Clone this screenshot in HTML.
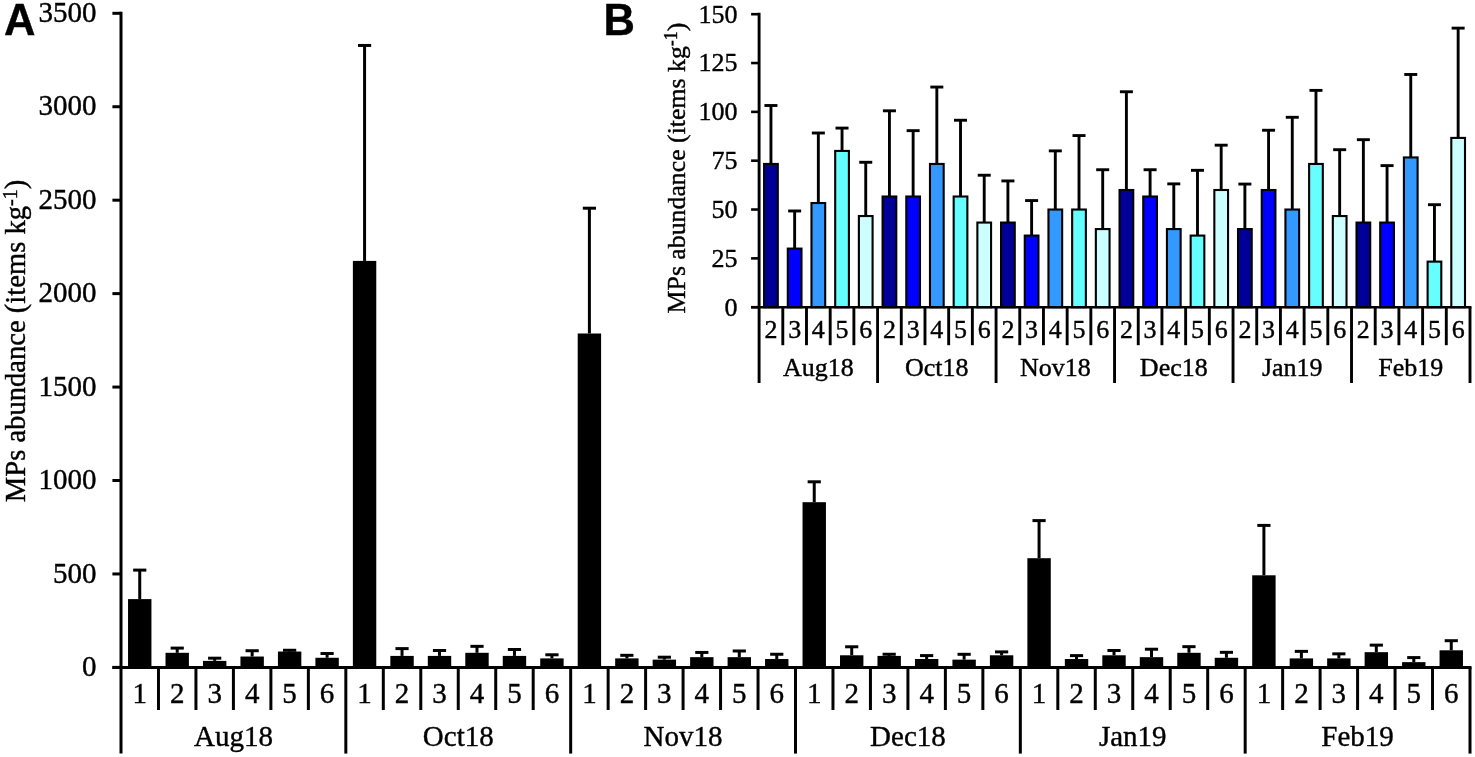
<!DOCTYPE html>
<html><head><meta charset="utf-8"><title>MPs abundance</title>
<style>html,body{margin:0;padding:0;background:#fff;width:1475px;height:757px;overflow:hidden}
svg text{font-family:"Liberation Serif",serif;fill:#000;stroke:#000;stroke-width:0.4px}
svg{will-change:transform}</style></head>
<body>
<svg width="1475" height="757" viewBox="0 0 1475 757" style="position:absolute;left:0;top:0">
<rect width="1475" height="757" fill="#fff"/>
<rect x="128.04" y="599.10" width="23.4" height="68.30" fill="#000"/>
<line x1="139.74" y1="599.10" x2="139.74" y2="570.10" stroke="#000" stroke-width="3.0"/>
<line x1="133.14" y1="570.10" x2="146.34" y2="570.10" stroke="#000" stroke-width="3.0"/>
<rect x="165.51" y="652.80" width="23.4" height="14.60" fill="#000"/>
<line x1="177.21" y1="652.80" x2="177.21" y2="648.10" stroke="#000" stroke-width="3.0"/>
<line x1="170.61" y1="648.10" x2="183.81" y2="648.10" stroke="#000" stroke-width="3.0"/>
<rect x="202.98" y="660.89" width="23.4" height="6.51" fill="#000"/>
<line x1="214.68" y1="660.89" x2="214.68" y2="658.19" stroke="#000" stroke-width="3.0"/>
<line x1="208.08" y1="658.19" x2="221.28" y2="658.19" stroke="#000" stroke-width="3.0"/>
<rect x="240.45" y="656.53" width="23.4" height="10.87" fill="#000"/>
<line x1="252.15" y1="656.53" x2="252.15" y2="650.73" stroke="#000" stroke-width="3.0"/>
<line x1="245.55" y1="650.73" x2="258.75" y2="650.73" stroke="#000" stroke-width="3.0"/>
<rect x="277.93" y="651.55" width="23.4" height="15.85" fill="#000"/>
<line x1="289.62" y1="651.55" x2="289.62" y2="650.26" stroke="#000" stroke-width="3.0"/>
<line x1="283.02" y1="650.26" x2="296.23" y2="650.26" stroke="#000" stroke-width="3.0"/>
<rect x="315.40" y="657.78" width="23.4" height="9.62" fill="#000"/>
<line x1="327.10" y1="657.78" x2="327.10" y2="653.53" stroke="#000" stroke-width="3.0"/>
<line x1="320.50" y1="653.53" x2="333.70" y2="653.53" stroke="#000" stroke-width="3.0"/>
<rect x="352.87" y="260.90" width="23.4" height="406.50" fill="#000"/>
<line x1="364.57" y1="260.90" x2="364.57" y2="45.45" stroke="#000" stroke-width="3.0"/>
<line x1="357.97" y1="45.45" x2="371.17" y2="45.45" stroke="#000" stroke-width="3.0"/>
<rect x="390.34" y="655.91" width="23.4" height="11.49" fill="#000"/>
<line x1="402.04" y1="655.91" x2="402.04" y2="648.61" stroke="#000" stroke-width="3.0"/>
<line x1="395.44" y1="648.61" x2="408.64" y2="648.61" stroke="#000" stroke-width="3.0"/>
<rect x="427.81" y="655.91" width="23.4" height="11.49" fill="#000"/>
<line x1="439.51" y1="655.91" x2="439.51" y2="650.51" stroke="#000" stroke-width="3.0"/>
<line x1="432.91" y1="650.51" x2="446.11" y2="650.51" stroke="#000" stroke-width="3.0"/>
<rect x="465.29" y="652.80" width="23.4" height="14.60" fill="#000"/>
<line x1="476.99" y1="652.80" x2="476.99" y2="646.34" stroke="#000" stroke-width="3.0"/>
<line x1="470.39" y1="646.34" x2="483.59" y2="646.34" stroke="#000" stroke-width="3.0"/>
<rect x="502.76" y="655.91" width="23.4" height="11.49" fill="#000"/>
<line x1="514.46" y1="655.91" x2="514.46" y2="649.51" stroke="#000" stroke-width="3.0"/>
<line x1="507.86" y1="649.51" x2="521.06" y2="649.51" stroke="#000" stroke-width="3.0"/>
<rect x="540.23" y="658.40" width="23.4" height="9.00" fill="#000"/>
<line x1="551.93" y1="658.40" x2="551.93" y2="654.77" stroke="#000" stroke-width="3.0"/>
<line x1="545.33" y1="654.77" x2="558.53" y2="654.77" stroke="#000" stroke-width="3.0"/>
<rect x="577.70" y="333.50" width="23.4" height="333.90" fill="#000"/>
<line x1="589.40" y1="333.50" x2="589.40" y2="208.20" stroke="#000" stroke-width="3.0"/>
<line x1="582.80" y1="208.20" x2="596.00" y2="208.20" stroke="#000" stroke-width="3.0"/>
<rect x="615.17" y="658.40" width="23.4" height="9.00" fill="#000"/>
<line x1="626.88" y1="658.40" x2="626.88" y2="655.32" stroke="#000" stroke-width="3.0"/>
<line x1="620.27" y1="655.32" x2="633.48" y2="655.32" stroke="#000" stroke-width="3.0"/>
<rect x="652.65" y="659.65" width="23.4" height="7.75" fill="#000"/>
<line x1="664.35" y1="659.65" x2="664.35" y2="657.20" stroke="#000" stroke-width="3.0"/>
<line x1="657.75" y1="657.20" x2="670.95" y2="657.20" stroke="#000" stroke-width="3.0"/>
<rect x="690.12" y="657.16" width="23.4" height="10.24" fill="#000"/>
<line x1="701.82" y1="657.16" x2="701.82" y2="652.44" stroke="#000" stroke-width="3.0"/>
<line x1="695.22" y1="652.44" x2="708.42" y2="652.44" stroke="#000" stroke-width="3.0"/>
<rect x="727.59" y="657.16" width="23.4" height="10.24" fill="#000"/>
<line x1="739.29" y1="657.16" x2="739.29" y2="650.98" stroke="#000" stroke-width="3.0"/>
<line x1="732.69" y1="650.98" x2="745.89" y2="650.98" stroke="#000" stroke-width="3.0"/>
<rect x="765.06" y="659.02" width="23.4" height="8.38" fill="#000"/>
<line x1="776.76" y1="659.02" x2="776.76" y2="654.25" stroke="#000" stroke-width="3.0"/>
<line x1="770.16" y1="654.25" x2="783.36" y2="654.25" stroke="#000" stroke-width="3.0"/>
<rect x="802.54" y="502.20" width="23.4" height="165.20" fill="#000"/>
<line x1="814.24" y1="502.20" x2="814.24" y2="481.80" stroke="#000" stroke-width="3.0"/>
<line x1="807.64" y1="481.80" x2="820.84" y2="481.80" stroke="#000" stroke-width="3.0"/>
<rect x="840.01" y="655.29" width="23.4" height="12.11" fill="#000"/>
<line x1="851.71" y1="655.29" x2="851.71" y2="646.79" stroke="#000" stroke-width="3.0"/>
<line x1="845.11" y1="646.79" x2="858.31" y2="646.79" stroke="#000" stroke-width="3.0"/>
<rect x="877.48" y="655.91" width="23.4" height="11.49" fill="#000"/>
<line x1="889.18" y1="655.91" x2="889.18" y2="654.25" stroke="#000" stroke-width="3.0"/>
<line x1="882.58" y1="654.25" x2="895.78" y2="654.25" stroke="#000" stroke-width="3.0"/>
<rect x="914.95" y="659.02" width="23.4" height="8.38" fill="#000"/>
<line x1="926.65" y1="659.02" x2="926.65" y2="655.60" stroke="#000" stroke-width="3.0"/>
<line x1="920.05" y1="655.60" x2="933.25" y2="655.60" stroke="#000" stroke-width="3.0"/>
<rect x="952.42" y="659.65" width="23.4" height="7.75" fill="#000"/>
<line x1="964.12" y1="659.65" x2="964.12" y2="654.30" stroke="#000" stroke-width="3.0"/>
<line x1="957.52" y1="654.30" x2="970.73" y2="654.30" stroke="#000" stroke-width="3.0"/>
<rect x="989.90" y="655.29" width="23.4" height="12.11" fill="#000"/>
<line x1="1001.60" y1="655.29" x2="1001.60" y2="651.90" stroke="#000" stroke-width="3.0"/>
<line x1="995.00" y1="651.90" x2="1008.20" y2="651.90" stroke="#000" stroke-width="3.0"/>
<rect x="1027.37" y="558.20" width="23.4" height="109.20" fill="#000"/>
<line x1="1039.07" y1="558.20" x2="1039.07" y2="520.60" stroke="#000" stroke-width="3.0"/>
<line x1="1032.47" y1="520.60" x2="1045.67" y2="520.60" stroke="#000" stroke-width="3.0"/>
<rect x="1064.84" y="659.02" width="23.4" height="8.38" fill="#000"/>
<line x1="1076.54" y1="659.02" x2="1076.54" y2="655.62" stroke="#000" stroke-width="3.0"/>
<line x1="1069.94" y1="655.62" x2="1083.14" y2="655.62" stroke="#000" stroke-width="3.0"/>
<rect x="1102.31" y="655.29" width="23.4" height="12.11" fill="#000"/>
<line x1="1114.01" y1="655.29" x2="1114.01" y2="650.47" stroke="#000" stroke-width="3.0"/>
<line x1="1107.41" y1="650.47" x2="1120.61" y2="650.47" stroke="#000" stroke-width="3.0"/>
<rect x="1139.79" y="657.16" width="23.4" height="10.24" fill="#000"/>
<line x1="1151.49" y1="657.16" x2="1151.49" y2="649.23" stroke="#000" stroke-width="3.0"/>
<line x1="1144.89" y1="649.23" x2="1158.09" y2="649.23" stroke="#000" stroke-width="3.0"/>
<rect x="1177.26" y="652.80" width="23.4" height="14.60" fill="#000"/>
<line x1="1188.96" y1="652.80" x2="1188.96" y2="646.66" stroke="#000" stroke-width="3.0"/>
<line x1="1182.36" y1="646.66" x2="1195.56" y2="646.66" stroke="#000" stroke-width="3.0"/>
<rect x="1214.73" y="657.78" width="23.4" height="9.62" fill="#000"/>
<line x1="1226.43" y1="657.78" x2="1226.43" y2="652.33" stroke="#000" stroke-width="3.0"/>
<line x1="1219.83" y1="652.33" x2="1233.03" y2="652.33" stroke="#000" stroke-width="3.0"/>
<rect x="1252.20" y="575.30" width="23.4" height="92.10" fill="#000"/>
<line x1="1263.90" y1="575.30" x2="1263.90" y2="525.40" stroke="#000" stroke-width="3.0"/>
<line x1="1257.30" y1="525.40" x2="1270.50" y2="525.40" stroke="#000" stroke-width="3.0"/>
<rect x="1289.67" y="658.40" width="23.4" height="9.00" fill="#000"/>
<line x1="1301.38" y1="658.40" x2="1301.38" y2="651.37" stroke="#000" stroke-width="3.0"/>
<line x1="1294.78" y1="651.37" x2="1307.97" y2="651.37" stroke="#000" stroke-width="3.0"/>
<rect x="1327.15" y="658.40" width="23.4" height="9.00" fill="#000"/>
<line x1="1338.85" y1="658.40" x2="1338.85" y2="653.85" stroke="#000" stroke-width="3.0"/>
<line x1="1332.25" y1="653.85" x2="1345.45" y2="653.85" stroke="#000" stroke-width="3.0"/>
<rect x="1364.62" y="652.17" width="23.4" height="15.23" fill="#000"/>
<line x1="1376.32" y1="652.17" x2="1376.32" y2="645.13" stroke="#000" stroke-width="3.0"/>
<line x1="1369.72" y1="645.13" x2="1382.92" y2="645.13" stroke="#000" stroke-width="3.0"/>
<rect x="1402.09" y="662.14" width="23.4" height="5.26" fill="#000"/>
<line x1="1413.79" y1="662.14" x2="1413.79" y2="657.59" stroke="#000" stroke-width="3.0"/>
<line x1="1407.19" y1="657.59" x2="1420.39" y2="657.59" stroke="#000" stroke-width="3.0"/>
<rect x="1439.56" y="650.30" width="23.4" height="17.10" fill="#000"/>
<line x1="1451.26" y1="650.30" x2="1451.26" y2="640.70" stroke="#000" stroke-width="3.0"/>
<line x1="1444.66" y1="640.70" x2="1457.86" y2="640.70" stroke="#000" stroke-width="3.0"/>
<line x1="121.0" y1="11.80" x2="121.0" y2="753.6" stroke="#000" stroke-width="3.0"/>
<line x1="112.40" y1="667.4" x2="1471.50" y2="667.4" stroke="#000" stroke-width="3.0"/>
<line x1="112.40" y1="667.40" x2="121.0" y2="667.40" stroke="#000" stroke-width="3.0"/>
<text x="96.5" y="676.10" font-size="29" text-anchor="end">0</text>
<line x1="112.40" y1="573.96" x2="121.0" y2="573.96" stroke="#000" stroke-width="3.0"/>
<text x="96.5" y="582.66" font-size="29" text-anchor="end">500</text>
<line x1="112.40" y1="480.51" x2="121.0" y2="480.51" stroke="#000" stroke-width="3.0"/>
<text x="96.5" y="489.21" font-size="29" text-anchor="end">1000</text>
<line x1="112.40" y1="387.07" x2="121.0" y2="387.07" stroke="#000" stroke-width="3.0"/>
<text x="96.5" y="395.77" font-size="29" text-anchor="end">1500</text>
<line x1="112.40" y1="293.63" x2="121.0" y2="293.63" stroke="#000" stroke-width="3.0"/>
<text x="96.5" y="302.33" font-size="29" text-anchor="end">2000</text>
<line x1="112.40" y1="200.19" x2="121.0" y2="200.19" stroke="#000" stroke-width="3.0"/>
<text x="96.5" y="208.89" font-size="29" text-anchor="end">2500</text>
<line x1="112.40" y1="106.74" x2="121.0" y2="106.74" stroke="#000" stroke-width="3.0"/>
<text x="96.5" y="115.44" font-size="29" text-anchor="end">3000</text>
<line x1="112.40" y1="13.30" x2="121.0" y2="13.30" stroke="#000" stroke-width="3.0"/>
<text x="96.5" y="22.00" font-size="29" text-anchor="end">3500</text>
<line x1="158.47" y1="667.4" x2="158.47" y2="710" stroke="#000" stroke-width="3.0"/>
<line x1="195.94" y1="667.4" x2="195.94" y2="710" stroke="#000" stroke-width="3.0"/>
<line x1="233.42" y1="667.4" x2="233.42" y2="710" stroke="#000" stroke-width="3.0"/>
<line x1="270.89" y1="667.4" x2="270.89" y2="710" stroke="#000" stroke-width="3.0"/>
<line x1="308.36" y1="667.4" x2="308.36" y2="710" stroke="#000" stroke-width="3.0"/>
<line x1="345.83" y1="667.4" x2="345.83" y2="753.6" stroke="#000" stroke-width="3.0"/>
<line x1="383.31" y1="667.4" x2="383.31" y2="710" stroke="#000" stroke-width="3.0"/>
<line x1="420.78" y1="667.4" x2="420.78" y2="710" stroke="#000" stroke-width="3.0"/>
<line x1="458.25" y1="667.4" x2="458.25" y2="710" stroke="#000" stroke-width="3.0"/>
<line x1="495.72" y1="667.4" x2="495.72" y2="710" stroke="#000" stroke-width="3.0"/>
<line x1="533.19" y1="667.4" x2="533.19" y2="710" stroke="#000" stroke-width="3.0"/>
<line x1="570.67" y1="667.4" x2="570.67" y2="753.6" stroke="#000" stroke-width="3.0"/>
<line x1="608.14" y1="667.4" x2="608.14" y2="710" stroke="#000" stroke-width="3.0"/>
<line x1="645.61" y1="667.4" x2="645.61" y2="710" stroke="#000" stroke-width="3.0"/>
<line x1="683.08" y1="667.4" x2="683.08" y2="710" stroke="#000" stroke-width="3.0"/>
<line x1="720.56" y1="667.4" x2="720.56" y2="710" stroke="#000" stroke-width="3.0"/>
<line x1="758.03" y1="667.4" x2="758.03" y2="710" stroke="#000" stroke-width="3.0"/>
<line x1="795.50" y1="667.4" x2="795.50" y2="753.6" stroke="#000" stroke-width="3.0"/>
<line x1="832.97" y1="667.4" x2="832.97" y2="710" stroke="#000" stroke-width="3.0"/>
<line x1="870.44" y1="667.4" x2="870.44" y2="710" stroke="#000" stroke-width="3.0"/>
<line x1="907.92" y1="667.4" x2="907.92" y2="710" stroke="#000" stroke-width="3.0"/>
<line x1="945.39" y1="667.4" x2="945.39" y2="710" stroke="#000" stroke-width="3.0"/>
<line x1="982.86" y1="667.4" x2="982.86" y2="710" stroke="#000" stroke-width="3.0"/>
<line x1="1020.33" y1="667.4" x2="1020.33" y2="753.6" stroke="#000" stroke-width="3.0"/>
<line x1="1057.81" y1="667.4" x2="1057.81" y2="710" stroke="#000" stroke-width="3.0"/>
<line x1="1095.28" y1="667.4" x2="1095.28" y2="710" stroke="#000" stroke-width="3.0"/>
<line x1="1132.75" y1="667.4" x2="1132.75" y2="710" stroke="#000" stroke-width="3.0"/>
<line x1="1170.22" y1="667.4" x2="1170.22" y2="710" stroke="#000" stroke-width="3.0"/>
<line x1="1207.69" y1="667.4" x2="1207.69" y2="710" stroke="#000" stroke-width="3.0"/>
<line x1="1245.17" y1="667.4" x2="1245.17" y2="753.6" stroke="#000" stroke-width="3.0"/>
<line x1="1282.64" y1="667.4" x2="1282.64" y2="710" stroke="#000" stroke-width="3.0"/>
<line x1="1320.11" y1="667.4" x2="1320.11" y2="710" stroke="#000" stroke-width="3.0"/>
<line x1="1357.58" y1="667.4" x2="1357.58" y2="710" stroke="#000" stroke-width="3.0"/>
<line x1="1395.06" y1="667.4" x2="1395.06" y2="710" stroke="#000" stroke-width="3.0"/>
<line x1="1432.53" y1="667.4" x2="1432.53" y2="710" stroke="#000" stroke-width="3.0"/>
<line x1="1470.00" y1="667.4" x2="1470.00" y2="753.6" stroke="#000" stroke-width="3.0"/>
<text x="139.74" y="703.3" font-size="29" text-anchor="middle">1</text>
<text x="177.21" y="703.3" font-size="29" text-anchor="middle">2</text>
<text x="214.68" y="703.3" font-size="29" text-anchor="middle">3</text>
<text x="252.15" y="703.3" font-size="29" text-anchor="middle">4</text>
<text x="289.62" y="703.3" font-size="29" text-anchor="middle">5</text>
<text x="327.10" y="703.3" font-size="29" text-anchor="middle">6</text>
<text x="364.57" y="703.3" font-size="29" text-anchor="middle">1</text>
<text x="402.04" y="703.3" font-size="29" text-anchor="middle">2</text>
<text x="439.51" y="703.3" font-size="29" text-anchor="middle">3</text>
<text x="476.99" y="703.3" font-size="29" text-anchor="middle">4</text>
<text x="514.46" y="703.3" font-size="29" text-anchor="middle">5</text>
<text x="551.93" y="703.3" font-size="29" text-anchor="middle">6</text>
<text x="589.40" y="703.3" font-size="29" text-anchor="middle">1</text>
<text x="626.88" y="703.3" font-size="29" text-anchor="middle">2</text>
<text x="664.35" y="703.3" font-size="29" text-anchor="middle">3</text>
<text x="701.82" y="703.3" font-size="29" text-anchor="middle">4</text>
<text x="739.29" y="703.3" font-size="29" text-anchor="middle">5</text>
<text x="776.76" y="703.3" font-size="29" text-anchor="middle">6</text>
<text x="814.24" y="703.3" font-size="29" text-anchor="middle">1</text>
<text x="851.71" y="703.3" font-size="29" text-anchor="middle">2</text>
<text x="889.18" y="703.3" font-size="29" text-anchor="middle">3</text>
<text x="926.65" y="703.3" font-size="29" text-anchor="middle">4</text>
<text x="964.12" y="703.3" font-size="29" text-anchor="middle">5</text>
<text x="1001.60" y="703.3" font-size="29" text-anchor="middle">6</text>
<text x="1039.07" y="703.3" font-size="29" text-anchor="middle">1</text>
<text x="1076.54" y="703.3" font-size="29" text-anchor="middle">2</text>
<text x="1114.01" y="703.3" font-size="29" text-anchor="middle">3</text>
<text x="1151.49" y="703.3" font-size="29" text-anchor="middle">4</text>
<text x="1188.96" y="703.3" font-size="29" text-anchor="middle">5</text>
<text x="1226.43" y="703.3" font-size="29" text-anchor="middle">6</text>
<text x="1263.90" y="703.3" font-size="29" text-anchor="middle">1</text>
<text x="1301.38" y="703.3" font-size="29" text-anchor="middle">2</text>
<text x="1338.85" y="703.3" font-size="29" text-anchor="middle">3</text>
<text x="1376.32" y="703.3" font-size="29" text-anchor="middle">4</text>
<text x="1413.79" y="703.3" font-size="29" text-anchor="middle">5</text>
<text x="1451.26" y="703.3" font-size="29" text-anchor="middle">6</text>
<text x="233.42" y="745.8" font-size="29" text-anchor="middle">Aug18</text>
<text x="458.25" y="745.8" font-size="29" text-anchor="middle">Oct18</text>
<text x="683.08" y="745.8" font-size="29" text-anchor="middle">Nov18</text>
<text x="907.92" y="745.8" font-size="29" text-anchor="middle">Dec18</text>
<text x="1132.75" y="745.8" font-size="29" text-anchor="middle">Jan19</text>
<text x="1357.58" y="745.8" font-size="29" text-anchor="middle">Feb19</text>
<text class="title" transform="translate(25.3,502.2) rotate(-90)" font-size="28.6">MPs abundance (items kg<tspan font-size="20" dy="-8.8" dx="0">-1</tspan><tspan dy="8.8" dx="0">)</tspan></text>
<text x="4" y="34.8" style="font-family:&quot;Liberation Sans&quot;,sans-serif;font-weight:bold;font-size:43.5px">A</text>
<line x1="770.95" y1="163.96" x2="770.95" y2="105.51" stroke="#000" stroke-width="2.9"/>
<line x1="764.45" y1="105.51" x2="777.45" y2="105.51" stroke="#000" stroke-width="2.9"/>
<rect x="764.10" y="163.96" width="13.7" height="143.24" fill="#000099" stroke="#000" stroke-width="2.1"/>
<line x1="794.64" y1="248.60" x2="794.64" y2="210.97" stroke="#000" stroke-width="2.9"/>
<line x1="788.14" y1="210.97" x2="801.14" y2="210.97" stroke="#000" stroke-width="2.9"/>
<rect x="787.79" y="248.60" width="13.7" height="58.60" fill="#0000ff" stroke="#000" stroke-width="2.1"/>
<line x1="818.34" y1="203.02" x2="818.34" y2="133.00" stroke="#000" stroke-width="2.9"/>
<line x1="811.84" y1="133.00" x2="824.84" y2="133.00" stroke="#000" stroke-width="2.9"/>
<rect x="811.49" y="203.02" width="13.7" height="104.18" fill="#3399ff" stroke="#000" stroke-width="2.1"/>
<line x1="842.04" y1="150.93" x2="842.04" y2="128.09" stroke="#000" stroke-width="2.9"/>
<line x1="835.54" y1="128.09" x2="848.54" y2="128.09" stroke="#000" stroke-width="2.9"/>
<rect x="835.19" y="150.93" width="13.7" height="156.27" fill="#66ffff" stroke="#000" stroke-width="2.1"/>
<line x1="865.74" y1="216.04" x2="865.74" y2="162.27" stroke="#000" stroke-width="2.9"/>
<line x1="859.24" y1="162.27" x2="872.24" y2="162.27" stroke="#000" stroke-width="2.9"/>
<rect x="858.88" y="216.04" width="13.7" height="91.16" fill="#ccffff" stroke="#000" stroke-width="2.1"/>
<line x1="889.43" y1="196.51" x2="889.43" y2="110.81" stroke="#000" stroke-width="2.9"/>
<line x1="882.93" y1="110.81" x2="895.93" y2="110.81" stroke="#000" stroke-width="2.9"/>
<rect x="882.58" y="196.51" width="13.7" height="110.69" fill="#000099" stroke="#000" stroke-width="2.1"/>
<line x1="913.13" y1="196.51" x2="913.13" y2="130.65" stroke="#000" stroke-width="2.9"/>
<line x1="906.63" y1="130.65" x2="919.63" y2="130.65" stroke="#000" stroke-width="2.9"/>
<rect x="906.28" y="196.51" width="13.7" height="110.69" fill="#0000ff" stroke="#000" stroke-width="2.1"/>
<line x1="936.83" y1="163.96" x2="936.83" y2="87.05" stroke="#000" stroke-width="2.9"/>
<line x1="930.33" y1="87.05" x2="943.33" y2="87.05" stroke="#000" stroke-width="2.9"/>
<rect x="929.98" y="163.96" width="13.7" height="143.24" fill="#3399ff" stroke="#000" stroke-width="2.1"/>
<line x1="960.52" y1="196.51" x2="960.52" y2="120.24" stroke="#000" stroke-width="2.9"/>
<line x1="954.02" y1="120.24" x2="967.02" y2="120.24" stroke="#000" stroke-width="2.9"/>
<rect x="953.67" y="196.51" width="13.7" height="110.69" fill="#66ffff" stroke="#000" stroke-width="2.1"/>
<line x1="984.22" y1="222.56" x2="984.22" y2="175.23" stroke="#000" stroke-width="2.9"/>
<line x1="977.72" y1="175.23" x2="990.72" y2="175.23" stroke="#000" stroke-width="2.9"/>
<rect x="977.37" y="222.56" width="13.7" height="84.64" fill="#ccffff" stroke="#000" stroke-width="2.1"/>
<line x1="1007.91" y1="222.56" x2="1007.91" y2="180.93" stroke="#000" stroke-width="2.9"/>
<line x1="1001.41" y1="180.93" x2="1014.41" y2="180.93" stroke="#000" stroke-width="2.9"/>
<rect x="1001.06" y="222.56" width="13.7" height="84.64" fill="#000099" stroke="#000" stroke-width="2.1"/>
<line x1="1031.61" y1="235.58" x2="1031.61" y2="200.57" stroke="#000" stroke-width="2.9"/>
<line x1="1025.11" y1="200.57" x2="1038.11" y2="200.57" stroke="#000" stroke-width="2.9"/>
<rect x="1024.76" y="235.58" width="13.7" height="71.62" fill="#0000ff" stroke="#000" stroke-width="2.1"/>
<line x1="1055.31" y1="209.53" x2="1055.31" y2="150.88" stroke="#000" stroke-width="2.9"/>
<line x1="1048.81" y1="150.88" x2="1061.81" y2="150.88" stroke="#000" stroke-width="2.9"/>
<rect x="1048.46" y="209.53" width="13.7" height="97.67" fill="#3399ff" stroke="#000" stroke-width="2.1"/>
<line x1="1079.01" y1="209.53" x2="1079.01" y2="135.56" stroke="#000" stroke-width="2.9"/>
<line x1="1072.51" y1="135.56" x2="1085.51" y2="135.56" stroke="#000" stroke-width="2.9"/>
<rect x="1072.16" y="209.53" width="13.7" height="97.67" fill="#66ffff" stroke="#000" stroke-width="2.1"/>
<line x1="1102.70" y1="229.07" x2="1102.70" y2="169.73" stroke="#000" stroke-width="2.9"/>
<line x1="1096.20" y1="169.73" x2="1109.20" y2="169.73" stroke="#000" stroke-width="2.9"/>
<rect x="1095.85" y="229.07" width="13.7" height="78.13" fill="#ccffff" stroke="#000" stroke-width="2.1"/>
<line x1="1126.40" y1="190.00" x2="1126.40" y2="91.76" stroke="#000" stroke-width="2.9"/>
<line x1="1119.90" y1="91.76" x2="1132.90" y2="91.76" stroke="#000" stroke-width="2.9"/>
<rect x="1119.55" y="190.00" width="13.7" height="117.20" fill="#000099" stroke="#000" stroke-width="2.1"/>
<line x1="1150.10" y1="196.51" x2="1150.10" y2="169.73" stroke="#000" stroke-width="2.9"/>
<line x1="1143.60" y1="169.73" x2="1156.60" y2="169.73" stroke="#000" stroke-width="2.9"/>
<rect x="1143.25" y="196.51" width="13.7" height="110.69" fill="#0000ff" stroke="#000" stroke-width="2.1"/>
<line x1="1173.79" y1="229.07" x2="1173.79" y2="183.87" stroke="#000" stroke-width="2.9"/>
<line x1="1167.29" y1="183.87" x2="1180.29" y2="183.87" stroke="#000" stroke-width="2.9"/>
<rect x="1166.94" y="229.07" width="13.7" height="78.13" fill="#3399ff" stroke="#000" stroke-width="2.1"/>
<line x1="1197.49" y1="235.58" x2="1197.49" y2="170.32" stroke="#000" stroke-width="2.9"/>
<line x1="1190.99" y1="170.32" x2="1203.99" y2="170.32" stroke="#000" stroke-width="2.9"/>
<rect x="1190.64" y="235.58" width="13.7" height="71.62" fill="#66ffff" stroke="#000" stroke-width="2.1"/>
<line x1="1221.18" y1="190.00" x2="1221.18" y2="145.18" stroke="#000" stroke-width="2.9"/>
<line x1="1214.68" y1="145.18" x2="1227.68" y2="145.18" stroke="#000" stroke-width="2.9"/>
<rect x="1214.34" y="190.00" width="13.7" height="117.20" fill="#ccffff" stroke="#000" stroke-width="2.1"/>
<line x1="1244.88" y1="229.07" x2="1244.88" y2="184.07" stroke="#000" stroke-width="2.9"/>
<line x1="1238.38" y1="184.07" x2="1251.38" y2="184.07" stroke="#000" stroke-width="2.9"/>
<rect x="1238.03" y="229.07" width="13.7" height="78.13" fill="#000099" stroke="#000" stroke-width="2.1"/>
<line x1="1268.58" y1="190.00" x2="1268.58" y2="130.25" stroke="#000" stroke-width="2.9"/>
<line x1="1262.08" y1="130.25" x2="1275.08" y2="130.25" stroke="#000" stroke-width="2.9"/>
<rect x="1261.73" y="190.00" width="13.7" height="117.20" fill="#0000ff" stroke="#000" stroke-width="2.1"/>
<line x1="1292.28" y1="209.53" x2="1292.28" y2="117.29" stroke="#000" stroke-width="2.9"/>
<line x1="1285.78" y1="117.29" x2="1298.78" y2="117.29" stroke="#000" stroke-width="2.9"/>
<rect x="1285.43" y="209.53" width="13.7" height="97.67" fill="#3399ff" stroke="#000" stroke-width="2.1"/>
<line x1="1315.97" y1="163.96" x2="1315.97" y2="90.39" stroke="#000" stroke-width="2.9"/>
<line x1="1309.47" y1="90.39" x2="1322.47" y2="90.39" stroke="#000" stroke-width="2.9"/>
<rect x="1309.12" y="163.96" width="13.7" height="143.24" fill="#66ffff" stroke="#000" stroke-width="2.1"/>
<line x1="1339.67" y1="216.04" x2="1339.67" y2="149.70" stroke="#000" stroke-width="2.9"/>
<line x1="1333.17" y1="149.70" x2="1346.17" y2="149.70" stroke="#000" stroke-width="2.9"/>
<rect x="1332.82" y="216.04" width="13.7" height="91.16" fill="#ccffff" stroke="#000" stroke-width="2.1"/>
<line x1="1363.37" y1="222.56" x2="1363.37" y2="139.68" stroke="#000" stroke-width="2.9"/>
<line x1="1356.87" y1="139.68" x2="1369.87" y2="139.68" stroke="#000" stroke-width="2.9"/>
<rect x="1356.52" y="222.56" width="13.7" height="84.64" fill="#000099" stroke="#000" stroke-width="2.1"/>
<line x1="1387.06" y1="222.56" x2="1387.06" y2="165.61" stroke="#000" stroke-width="2.9"/>
<line x1="1380.56" y1="165.61" x2="1393.56" y2="165.61" stroke="#000" stroke-width="2.9"/>
<rect x="1380.21" y="222.56" width="13.7" height="84.64" fill="#0000ff" stroke="#000" stroke-width="2.1"/>
<line x1="1410.76" y1="157.44" x2="1410.76" y2="74.48" stroke="#000" stroke-width="2.9"/>
<line x1="1404.26" y1="74.48" x2="1417.26" y2="74.48" stroke="#000" stroke-width="2.9"/>
<rect x="1403.91" y="157.44" width="13.7" height="149.76" fill="#3399ff" stroke="#000" stroke-width="2.1"/>
<line x1="1434.45" y1="261.62" x2="1434.45" y2="204.69" stroke="#000" stroke-width="2.9"/>
<line x1="1427.95" y1="204.69" x2="1440.95" y2="204.69" stroke="#000" stroke-width="2.9"/>
<rect x="1427.61" y="261.62" width="13.7" height="45.58" fill="#66ffff" stroke="#000" stroke-width="2.1"/>
<line x1="1458.15" y1="137.91" x2="1458.15" y2="28.13" stroke="#000" stroke-width="2.9"/>
<line x1="1451.65" y1="28.13" x2="1464.65" y2="28.13" stroke="#000" stroke-width="2.9"/>
<rect x="1451.30" y="137.91" width="13.7" height="169.29" fill="#ccffff" stroke="#000" stroke-width="2.1"/>
<line x1="759.1" y1="12.75" x2="759.1" y2="383" stroke="#000" stroke-width="2.9"/>
<line x1="751.10" y1="307.2" x2="1471.45" y2="307.2" stroke="#000" stroke-width="2.5"/>
<line x1="751.10" y1="307.20" x2="759.1" y2="307.20" stroke="#000" stroke-width="2.6"/>
<text x="737.6" y="315.50" font-size="26" text-anchor="end">0</text>
<line x1="751.10" y1="258.37" x2="759.1" y2="258.37" stroke="#000" stroke-width="2.6"/>
<text x="737.6" y="266.67" font-size="26" text-anchor="end">25</text>
<line x1="751.10" y1="209.53" x2="759.1" y2="209.53" stroke="#000" stroke-width="2.6"/>
<text x="737.6" y="217.83" font-size="26" text-anchor="end">50</text>
<line x1="751.10" y1="160.70" x2="759.1" y2="160.70" stroke="#000" stroke-width="2.6"/>
<text x="737.6" y="169.00" font-size="26" text-anchor="end">75</text>
<line x1="751.10" y1="111.87" x2="759.1" y2="111.87" stroke="#000" stroke-width="2.6"/>
<text x="737.6" y="120.17" font-size="26" text-anchor="end">100</text>
<line x1="751.10" y1="63.03" x2="759.1" y2="63.03" stroke="#000" stroke-width="2.6"/>
<text x="737.6" y="71.33" font-size="26" text-anchor="end">125</text>
<line x1="751.10" y1="14.20" x2="759.1" y2="14.20" stroke="#000" stroke-width="2.6"/>
<text x="737.6" y="22.50" font-size="26" text-anchor="end">150</text>
<line x1="782.80" y1="307.2" x2="782.80" y2="345.2" stroke="#000" stroke-width="2.9"/>
<line x1="806.49" y1="307.2" x2="806.49" y2="345.2" stroke="#000" stroke-width="2.9"/>
<line x1="830.19" y1="307.2" x2="830.19" y2="345.2" stroke="#000" stroke-width="2.9"/>
<line x1="853.89" y1="307.2" x2="853.89" y2="345.2" stroke="#000" stroke-width="2.9"/>
<line x1="877.58" y1="307.2" x2="877.58" y2="383" stroke="#000" stroke-width="2.9"/>
<line x1="901.28" y1="307.2" x2="901.28" y2="345.2" stroke="#000" stroke-width="2.9"/>
<line x1="924.98" y1="307.2" x2="924.98" y2="345.2" stroke="#000" stroke-width="2.9"/>
<line x1="948.67" y1="307.2" x2="948.67" y2="345.2" stroke="#000" stroke-width="2.9"/>
<line x1="972.37" y1="307.2" x2="972.37" y2="345.2" stroke="#000" stroke-width="2.9"/>
<line x1="996.07" y1="307.2" x2="996.07" y2="383" stroke="#000" stroke-width="2.9"/>
<line x1="1019.76" y1="307.2" x2="1019.76" y2="345.2" stroke="#000" stroke-width="2.9"/>
<line x1="1043.46" y1="307.2" x2="1043.46" y2="345.2" stroke="#000" stroke-width="2.9"/>
<line x1="1067.16" y1="307.2" x2="1067.16" y2="345.2" stroke="#000" stroke-width="2.9"/>
<line x1="1090.85" y1="307.2" x2="1090.85" y2="345.2" stroke="#000" stroke-width="2.9"/>
<line x1="1114.55" y1="307.2" x2="1114.55" y2="383" stroke="#000" stroke-width="2.9"/>
<line x1="1138.25" y1="307.2" x2="1138.25" y2="345.2" stroke="#000" stroke-width="2.9"/>
<line x1="1161.94" y1="307.2" x2="1161.94" y2="345.2" stroke="#000" stroke-width="2.9"/>
<line x1="1185.64" y1="307.2" x2="1185.64" y2="345.2" stroke="#000" stroke-width="2.9"/>
<line x1="1209.34" y1="307.2" x2="1209.34" y2="345.2" stroke="#000" stroke-width="2.9"/>
<line x1="1233.03" y1="307.2" x2="1233.03" y2="383" stroke="#000" stroke-width="2.9"/>
<line x1="1256.73" y1="307.2" x2="1256.73" y2="345.2" stroke="#000" stroke-width="2.9"/>
<line x1="1280.43" y1="307.2" x2="1280.43" y2="345.2" stroke="#000" stroke-width="2.9"/>
<line x1="1304.12" y1="307.2" x2="1304.12" y2="345.2" stroke="#000" stroke-width="2.9"/>
<line x1="1327.82" y1="307.2" x2="1327.82" y2="345.2" stroke="#000" stroke-width="2.9"/>
<line x1="1351.52" y1="307.2" x2="1351.52" y2="383" stroke="#000" stroke-width="2.9"/>
<line x1="1375.21" y1="307.2" x2="1375.21" y2="345.2" stroke="#000" stroke-width="2.9"/>
<line x1="1398.91" y1="307.2" x2="1398.91" y2="345.2" stroke="#000" stroke-width="2.9"/>
<line x1="1422.61" y1="307.2" x2="1422.61" y2="345.2" stroke="#000" stroke-width="2.9"/>
<line x1="1446.30" y1="307.2" x2="1446.30" y2="345.2" stroke="#000" stroke-width="2.9"/>
<line x1="1470.00" y1="307.2" x2="1470.00" y2="383" stroke="#000" stroke-width="2.9"/>
<text x="770.95" y="338.0" font-size="26" text-anchor="middle">2</text>
<text x="794.64" y="338.0" font-size="26" text-anchor="middle">3</text>
<text x="818.34" y="338.0" font-size="26" text-anchor="middle">4</text>
<text x="842.04" y="338.0" font-size="26" text-anchor="middle">5</text>
<text x="865.74" y="338.0" font-size="26" text-anchor="middle">6</text>
<text x="889.43" y="338.0" font-size="26" text-anchor="middle">2</text>
<text x="913.13" y="338.0" font-size="26" text-anchor="middle">3</text>
<text x="936.83" y="338.0" font-size="26" text-anchor="middle">4</text>
<text x="960.52" y="338.0" font-size="26" text-anchor="middle">5</text>
<text x="984.22" y="338.0" font-size="26" text-anchor="middle">6</text>
<text x="1007.91" y="338.0" font-size="26" text-anchor="middle">2</text>
<text x="1031.61" y="338.0" font-size="26" text-anchor="middle">3</text>
<text x="1055.31" y="338.0" font-size="26" text-anchor="middle">4</text>
<text x="1079.01" y="338.0" font-size="26" text-anchor="middle">5</text>
<text x="1102.70" y="338.0" font-size="26" text-anchor="middle">6</text>
<text x="1126.40" y="338.0" font-size="26" text-anchor="middle">2</text>
<text x="1150.10" y="338.0" font-size="26" text-anchor="middle">3</text>
<text x="1173.79" y="338.0" font-size="26" text-anchor="middle">4</text>
<text x="1197.49" y="338.0" font-size="26" text-anchor="middle">5</text>
<text x="1221.18" y="338.0" font-size="26" text-anchor="middle">6</text>
<text x="1244.88" y="338.0" font-size="26" text-anchor="middle">2</text>
<text x="1268.58" y="338.0" font-size="26" text-anchor="middle">3</text>
<text x="1292.28" y="338.0" font-size="26" text-anchor="middle">4</text>
<text x="1315.97" y="338.0" font-size="26" text-anchor="middle">5</text>
<text x="1339.67" y="338.0" font-size="26" text-anchor="middle">6</text>
<text x="1363.37" y="338.0" font-size="26" text-anchor="middle">2</text>
<text x="1387.06" y="338.0" font-size="26" text-anchor="middle">3</text>
<text x="1410.76" y="338.0" font-size="26" text-anchor="middle">4</text>
<text x="1434.45" y="338.0" font-size="26" text-anchor="middle">5</text>
<text x="1458.15" y="338.0" font-size="26" text-anchor="middle">6</text>
<text x="818.34" y="375.9" font-size="26" text-anchor="middle">Aug18</text>
<text x="936.83" y="375.9" font-size="26" text-anchor="middle">Oct18</text>
<text x="1055.31" y="375.9" font-size="26" text-anchor="middle">Nov18</text>
<text x="1173.79" y="375.9" font-size="26" text-anchor="middle">Dec18</text>
<text x="1292.28" y="375.9" font-size="26" text-anchor="middle">Jan19</text>
<text x="1410.76" y="375.9" font-size="26" text-anchor="middle">Feb19</text>
<text class="title" transform="translate(685.3,313.4) rotate(-90)" font-size="25.8">MPs abundance (items kg<tspan font-size="18" dy="-8" dx="0">-1</tspan><tspan dy="8" dx="0">)</tspan></text>
<text x="603.5" y="34.8" style="font-family:&quot;Liberation Sans&quot;,sans-serif;font-weight:bold;font-size:43.5px">B</text>
</svg>
</body></html>
